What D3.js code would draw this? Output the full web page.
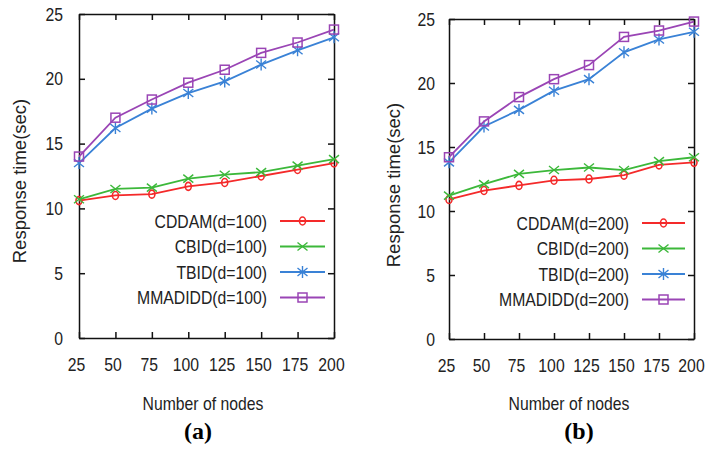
<!DOCTYPE html>
<html>
<head>
<meta charset="utf-8">
<script src="https://cdn.jsdelivr.net/npm/d3@7"></script>
<style>
body { margin: 0; background: #fff; }
svg { display: block; }
.axis text { font-family: "Liberation Sans", Arial, sans-serif; font-size: 19px; fill: #222; }
.axis path, .axis line { stroke: #111; stroke-width: 1.5; }
</style>
</head>
<body>
<svg id="chart" width="705" height="452"></svg>
<script>
var nodes = [25, 50, 75, 100, 125, 150, 175, 200];
var yTicks = [0, 5, 10, 15, 20, 25];

var seriesNames = ["CDDAM", "CBID", "TBID", "MMADIDD"];
var seriesColors = ["#f42a2a", "#3cb83a", "#3a82d6", "#9a45b5"];
var seriesMarks = ["ellipse", "x", "star", "square"];

// panel (a), d=100
var cddamA = [10.6, 11.0, 11.1, 11.7, 12.0, 12.5, 13.0, 13.5];
var cbidA = [10.7, 11.5, 11.6, 12.3, 12.6, 12.8, 13.3, 13.8];
var tbidA = [13.5, 16.2, 17.7, 18.9, 19.8, 21.1, 22.2, 23.2];
var mmadiddA = [14.0, 17.0, 18.4, 19.7, 20.7, 22.0, 22.8, 23.8];

// panel (b), d=200
var cddamB = [10.9, 11.6, 12.0, 12.4, 12.5, 12.8, 13.6, 13.8];
var cbidB = [11.2, 12.1, 12.9, 13.2, 13.4, 13.2, 13.9, 14.2];
var tbidB = [13.8, 16.6, 17.9, 19.4, 20.3, 22.4, 23.4, 24.0];
var mmadiddB = [14.2, 17.0, 18.9, 20.3, 21.4, 23.6, 24.1, 24.8];

var svg = d3.select("#chart");
var sans = "Liberation Sans, Arial, sans-serif";
var squeeze = 0.83; // the figure's text is horizontally condensed

function marker(g, type, x, y, color) {
    if (type == "ellipse") {
        g.append("ellipse").attr("cx", x).attr("cy", y).attr("rx", 3).attr("ry", 4)
            .attr("fill", "none").attr("stroke", color).attr("stroke-width", 1.6);
    } else if (type == "x") {
        g.append("path").attr("d", "M" + (x - 5) + "," + (y - 4) + "L" + (x + 5) + "," + (y + 4) +
            "M" + (x - 5) + "," + (y + 4) + "L" + (x + 5) + "," + (y - 4))
            .attr("stroke", color).attr("stroke-width", 1.4).attr("fill", "none");
    } else if (type == "star") {
        g.append("path").attr("d", "M" + (x - 5) + "," + (y - 4) + "L" + (x + 5) + "," + (y + 4) +
            "M" + (x - 5) + "," + (y + 4) + "L" + (x + 5) + "," + (y - 4) +
            "M" + x + "," + (y - 6) + "L" + x + "," + (y + 6))
            .attr("stroke", color).attr("stroke-width", 1.4).attr("fill", "none");
    } else {
        g.append("rect").attr("x", x - 4.5).attr("y", y - 4.5).attr("width", 9).attr("height", 9)
            .attr("fill", "none").attr("stroke", color).attr("stroke-width", 1.5);
    }
}

function label(g, x, y, txt, anchor) {
    return g.append("text").attr("transform", "translate(" + x + "," + y + ") scale(" + squeeze + ",1)")
        .attr("text-anchor", anchor)
        .style("font-family", sans).style("font-size", "19px").style("fill", "#222")
        .text(txt);
}

function panel(p) {
    var x = d3.scaleLinear().domain([25, 200]).range([p.left, p.right]);
    var y = d3.scaleLinear().domain([0, 25]).range([p.bottom, p.top]);
    var g = svg.append("g");

    var xb = g.append("g").attr("class", "axis").attr("transform", "translate(0," + p.bottom + ")")
        .call(d3.axisBottom(x).tickValues(nodes).tickSizeInner(-6).tickSizeOuter(0).tickPadding(20));
    xb.selectAll("text").attr("x", null).attr("transform", "translate(-3,0) scale(" + squeeze + ",1)");

    g.append("g").attr("class", "axis").attr("transform", "translate(0," + p.top + ")")
        .call(d3.axisTop(x).tickValues(nodes).tickSizeInner(-6).tickSizeOuter(0).tickFormat(""));

    var yl = g.append("g").attr("class", "axis").attr("transform", "translate(" + p.left + ",0)")
        .call(d3.axisLeft(y).tickValues(yTicks).tickSizeInner(-6).tickSizeOuter(0));
    yl.selectAll("text").attr("x", 0).attr("transform", "translate(" + (-p.ypad) + ",0) scale(" + squeeze + ",1)");

    g.append("g").attr("class", "axis").attr("transform", "translate(" + p.right + ",0)")
        .call(d3.axisRight(y).tickValues(yTicks).tickSizeInner(-6).tickSizeOuter(0).tickFormat(""));

    // legend
    p.series.forEach(function(s, i) {
        var ly = p.legY + i * 25.5;
        label(g, p.legText, ly, seriesNames[i] + "(d=" + p.d + ")", "end").attr("dy", "0.36em");
        g.append("line").attr("x1", p.legLine[0]).attr("x2", p.legLine[1])
            .attr("y1", ly).attr("y2", ly)
            .attr("stroke", seriesColors[i]).attr("stroke-width", 2);
        marker(g, seriesMarks[i], (p.legLine[0] + p.legLine[1]) / 2, ly, seriesColors[i]);
    });

    var line = d3.line().x(function(d, i) { return x(nodes[i]); }).y(function(d) { return y(d); });
    p.series.forEach(function(s, i) {
        g.append("path").datum(s).attr("d", line)
            .attr("fill", "none").attr("stroke", seriesColors[i]).attr("stroke-width", 1.8);
        s.forEach(function(v, j) {
            marker(g, seriesMarks[i], x(nodes[j]), y(v), seriesColors[i]);
        });
    });

    label(g, p.xlabX, 410, "Number of nodes", "middle");

    g.append("text").attr("transform", "translate(" + p.ylabX + "," + p.ylabY + ") rotate(-90)")
        .attr("text-anchor", "middle").attr("dy", "0.35em")
        .style("font-family", sans)
        .style("font-size", "18.5px").style("fill", "#222")
        .text("Response  time(sec)");

    g.append("text").attr("x", p.capX).attr("y", 439).attr("text-anchor", "middle")
        .style("font-family", "Liberation Serif, Times New Roman, serif")
        .style("font-size", "24px").style("font-weight", "bold").style("fill", "#000")
        .text(p.cap);
}

panel({
    left: 79, right: 334, top: 14, bottom: 338, ypad: 16, d: 100,
    series: [cddamA, cbidA, tbidA, mmadiddA],
    legY: 221, legText: 267, legLine: [280, 325],
    ylabX: 20, ylabY: 181, xlabX: 203, capX: 198, cap: "(a)"
});

panel({
    left: 449, right: 694, top: 19, bottom: 339, ypad: 14, d: 200,
    series: [cddamB, cbidB, tbidB, mmadiddB],
    legY: 223, legText: 629, legLine: [642, 685],
    ylabX: 394, ylabY: 185, xlabX: 569, capX: 579, cap: "(b)"
});
</script>
</body>
</html>
